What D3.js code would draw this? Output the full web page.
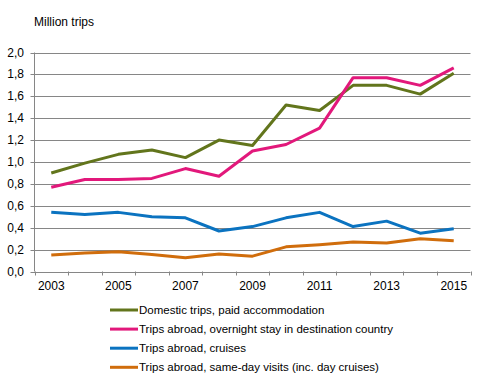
<!DOCTYPE html>
<html>
<head>
<meta charset="utf-8">
<script src="https://cdn.jsdelivr.net/npm/d3@7"></script>
<style>
  body { margin: 0; background: #fff; }
  text { font-family: "Liberation Sans", Arial, sans-serif; fill: #000; }
</style>
</head>
<body>
<div id="chart"></div>
<script>
var width = 490, height = 385;
var plotLeft = 34.5, plotRight = 470.5, plotTop = 52.5, plotBottom = 271.5;

var years = ['2003','2004','2005','2006','2007','2008','2009','2010','2011','2012','2013','2014','2015'];
var yearLabels = ['2003','2005','2007','2009','2011','2013','2015'];
var yTicks = [0, 0.2, 0.4, 0.6, 0.8, 1.0, 1.2, 1.4, 1.6, 1.8, 2.0];

var domestic = [0.90, 0.99, 1.07, 1.11, 1.04, 1.20, 1.15, 1.52, 1.47, 1.70, 1.70, 1.62, 1.81];
var overnight = [0.77, 0.84, 0.84, 0.85, 0.94, 0.87, 1.10, 1.16, 1.31, 1.77, 1.77, 1.70, 1.86];
var cruises = [0.54, 0.52, 0.54, 0.50, 0.49, 0.37, 0.41, 0.49, 0.54, 0.41, 0.46, 0.35, 0.39];
var sameDay = [0.15, 0.17, 0.18, 0.155, 0.125, 0.16, 0.14, 0.225, 0.245, 0.27, 0.26, 0.30, 0.28];

var seriesNames = ['Domestic trips, paid accommodation',
  'Trips abroad, overnight stay in destination country',
  'Trips abroad, cruises',
  'Trips abroad, same-day visits (inc. day cruises)'];
var seriesColors = ['#62751c', '#e2187b', '#0b73c0', '#d06d0c'];
var seriesValues = [domestic, overnight, cruises, sameDay];

var svg = d3.select('#chart')
    .append('svg')
    .attr('width', width)
    .attr('height', height);

var x = d3.scaleBand().domain(years).range([plotLeft, plotRight]);
var y = d3.scaleLinear().domain([0, 2]).range([plotBottom, plotTop]);

// gridlines
svg.selectAll('.grid')
    .data(yTicks)
    .enter()
    .append('line')
    .attr('x1', plotLeft - 4)
    .attr('x2', plotRight)
    .attr('y1', function(d){ return Math.round(y(d)) + 0.5; })
    .attr('y2', function(d){ return Math.round(y(d)) + 0.5; })
    .attr('stroke', '#868686')
    .attr('stroke-width', 1);

// y axis line
svg.append('line')
    .attr('x1', plotLeft).attr('x2', plotLeft)
    .attr('y1', plotTop).attr('y2', plotBottom)
    .attr('stroke', '#868686');

// y labels
svg.selectAll('.ylab')
    .data(yTicks)
    .enter()
    .append('text')
    .attr('x', 24)
    .attr('y', function(d){ return y(d) + 4; })
    .attr('text-anchor', 'end')
    .style('font-size', '12px')
    .text(function(d){ return d3.format('.1f')(d).replace('.', ','); });

// x ticks at band boundaries
var bounds = years.map(function(d){ return x(d); }).concat([x(years[years.length-1]) + x.bandwidth()]);
svg.selectAll('.xtick')
    .data(bounds)
    .enter()
    .append('line')
    .attr('x1', function(d){ return Math.round(d) + 0.5; })
    .attr('x2', function(d){ return Math.round(d) + 0.5; })
    .attr('y1', plotBottom)
    .attr('y2', plotBottom + 4)
    .attr('stroke', '#868686');

svg.selectAll('.xlab')
    .data(yearLabels)
    .enter()
    .append('text')
    .attr('x', function(d){ return x(d) + x.bandwidth()/2; })
    .attr('y', 290)
    .attr('text-anchor', 'middle')
    .style('font-size', '12px')
    .text(function(d){ return d; });

svg.append('text')
    .attr('x', 34)
    .attr('y', 26)
    .style('font-size', '12px')
    .text('Million trips');

var line = d3.line()
    .x(function(d, i){ return x(years[i]) + x.bandwidth()/2; })
    .y(function(d){ return y(d); });

seriesValues.forEach(function(vals, i){
    svg.append('path')
        .datum(vals)
        .attr('d', line)
        .attr('fill', 'none')
        .attr('stroke', seriesColors[i])
        .attr('stroke-width', 3)
        .attr('stroke-linejoin', 'round');
});

// legend
var legend = svg.selectAll('.legend')
    .data(seriesNames)
    .enter()
    .append('g')
    .attr('transform', function(d, i){ return 'translate(0,' + (310 + i*19.1) + ')'; });

legend.append('line')
    .attr('x1', 110).attr('x2', 138)
    .attr('y1', 0).attr('y2', 0)
    .attr('stroke', function(d, i){ return seriesColors[i]; })
    .attr('stroke-width', 3);

legend.append('text')
    .attr('x', 139)
    .attr('y', 4)
    .style('font-size', '11.5px')
    .text(function(d){ return d; });
</script>
</body>
</html>
